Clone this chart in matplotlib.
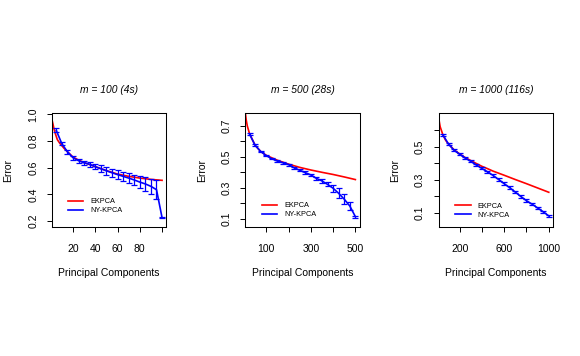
import matplotlib
matplotlib.use("Agg")
import matplotlib.pyplot as plt

plt.rcParams['font.family'] = ['Liberation Sans', 'DejaVu Sans']

# panel titles
titles = ["m = 100 (4s)", "m = 500 (28s)", "m = 1000 (116s)"]

# m = 100
ny_x1 = [5, 10, 15, 20, 25, 30, 35, 40, 45, 50, 55, 60, 65, 70, 75, 80, 85, 90, 95, 100]
ny_y1 = [0.88, 0.78, 0.72, 0.675, 0.652, 0.637, 0.625, 0.607, 0.592, 0.577,
         0.562, 0.548, 0.535, 0.522, 0.508, 0.492, 0.478, 0.46, 0.435, 0.225]
ny_e1 = [0.015, 0.01, 0.015, 0.015, 0.015, 0.015, 0.02, 0.02, 0.025, 0.03,
         0.03, 0.035, 0.035, 0.04, 0.04, 0.045, 0.05, 0.055, 0.07, 0.005]
ek_x1 = [1, 2, 3, 4, 5, 6, 8, 10, 12, 15, 20, 25, 30, 40, 50, 60, 70, 80, 90, 100]
ek_y1 = [0.965, 0.93, 0.89, 0.86, 0.835, 0.81, 0.785, 0.765, 0.745, 0.72,
         0.68, 0.657, 0.638, 0.608, 0.578, 0.552, 0.535, 0.522, 0.512, 0.505]

# m = 500
ny_x2 = [25, 50, 75, 100, 125, 150, 175, 200, 225, 250,
         275, 300, 325, 350, 375, 400, 425, 450, 475, 500]
ny_y2 = [0.648, 0.575, 0.535, 0.508, 0.488, 0.473, 0.462, 0.45, 0.43, 0.413,
         0.398, 0.383, 0.361, 0.344, 0.322, 0.297, 0.264, 0.226, 0.182, 0.113]
ny_e2 = [0.006, 0.006, 0.005, 0.005, 0.005, 0.005, 0.005, 0.006, 0.006, 0.007,
         0.008, 0.008, 0.01, 0.012, 0.013, 0.022, 0.032, 0.032, 0.023, 0.006]
ek_x2 = [1, 5, 10, 15, 25, 50, 75, 100, 150, 200, 250, 300, 350, 400, 450, 500]
ek_y2 = [0.95, 0.80, 0.74, 0.70, 0.65, 0.575, 0.535, 0.51, 0.478, 0.453,
         0.432, 0.415, 0.40, 0.386, 0.37, 0.353]

# m = 1000
ny_x3 = [50, 100, 150, 200, 250, 300, 350, 400, 450, 500,
         550, 600, 650, 700, 750, 800, 850, 900, 950, 1000]
ny_y3 = [0.57, 0.515, 0.477, 0.453, 0.43, 0.41, 0.388, 0.367, 0.347, 0.325,
         0.30, 0.275, 0.25, 0.224, 0.197, 0.172, 0.151, 0.128, 0.105, 0.08]
ny_e3 = [0.008, 0.007, 0.006, 0.006, 0.006, 0.006, 0.006, 0.006, 0.007, 0.007,
         0.007, 0.008, 0.008, 0.008, 0.008, 0.008, 0.008, 0.008, 0.007, 0.006]
ek_x3 = [1, 10, 15, 25, 50, 75, 100, 150, 200, 250, 300, 350, 400, 450, 500,
         600, 700, 800, 900, 1000]
ek_y3 = [0.85, 0.71, 0.66, 0.62, 0.57, 0.537, 0.515, 0.48, 0.455, 0.433, 0.415,
         0.397, 0.38, 0.366, 0.351, 0.326, 0.30, 0.275, 0.249, 0.223]

# ticks
xticks = [[20, 40, 60, 80, 100], [100, 200, 300, 400, 500], [200, 400, 600, 800, 1000]]
xlabels = [["20", "40", "60", "80", ""], ["100", "", "300", "", "500"],
           ["200", "", "600", "", "1000"]]
yticks = [[0.2, 0.4, 0.6, 0.8, 1.0], [0.1, 0.2, 0.3, 0.4, 0.5, 0.6, 0.7],
          [0.1, 0.2, 0.3, 0.4, 0.5, 0.6]]
ylabels = [["0.2", "0.4", "0.6", "0.8", "1.0"], ["0.1", "", "0.3", "", "0.5", "", "0.7"],
           ["0.1", "", "0.3", "", "0.5", ""]]

xlims = [(1.2, 103.8), (6, 519), (12, 1038)]
ylims = [(0.153, 1.0075), (0.044, 0.782), (0.011, 0.701)]
lefts = [52, 245.3, 438.7]
leg_pos = [(0.14, 0.255), (0.146, 0.222), (0.143, 0.214)]

series = [(ny_x1, ny_y1, ny_e1, ek_x1, ek_y1),
          (ny_x2, ny_y2, ny_e2, ek_x2, ek_y2),
          (ny_x3, ny_y3, ny_e3, ek_x3, ek_y3)]

W, H = 580, 356
fig = plt.figure(figsize=(W / 100, H / 100), dpi=100)

for i in range(3):
    nx, ny, ne, ex, ey = series[i]
    ax = fig.add_axes([lefts[i] / W, 1 - 227.3 / H, 114.3 / W, 114 / H])
    ax.plot(ex, ey, color='red', lw=1.2, label='EKPCA')
    ax.errorbar(nx, ny, yerr=ne, color='blue', lw=1.2, elinewidth=0.9,
                capsize=1.9, capthick=0.9, label='NY-KPCA')
    ax.set_xlim(xlims[i])
    ax.set_ylim(ylims[i])
    ax.set_xticks(xticks[i])
    ax.set_xticklabels(xlabels[i])
    ax.set_yticks(yticks[i])
    ax.set_yticklabels(ylabels[i], rotation=90, va='center')
    ax.tick_params(axis='both', direction='out', length=3.6, width=0.7,
                   labelsize=7.5, color='black')
    ax.tick_params(axis='x', pad=8.5)
    ax.tick_params(axis='y', pad=6.3)
    for s in ax.spines.values():
        s.set_linewidth(0.75)

    ax.text(0.5, 1.204, titles[i], transform=ax.transAxes, ha='center',
            va='center', fontsize=7.4, style='italic')
    ax.text(0.5, -0.404, "Principal Components", transform=ax.transAxes,
            ha='center', va='center', fontsize=7.5)
    ax.text(-0.38, 0.5, "Error", transform=ax.transAxes, ha='center',
            va='center', rotation=90, fontsize=7.5)

    handles, labels = ax.get_legend_handles_labels()
    ax.legend([handles[0], handles[1][0]], labels, loc='upper left',
              bbox_to_anchor=leg_pos[i], borderaxespad=0, borderpad=0,
              frameon=False, fontsize=5.3, handlelength=2.1,
              handletextpad=0.95, labelspacing=0.25)

fig.savefig("out.png", dpi=100)
